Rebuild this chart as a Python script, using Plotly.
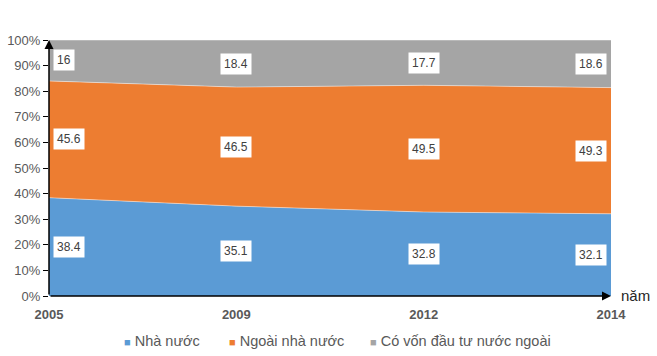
import plotly.graph_objects as go

years = ["2005", "2009", "2012", "2014"]
series_names = ["Nhà nước", "Ngoài nhà nước", "Có vốn đầu tư nước ngoài"]
nha_nuoc = [38.4, 35.1, 32.8, 32.1]
ngoai_nha_nuoc = [45.6, 46.5, 49.5, 49.3]
fdi = [16, 18.4, 17.7, 18.6]
y_ticks = [0, 10, 20, 30, 40, 50, 60, 70, 80, 90, 100]
y_tick_text = [f"{v}%" for v in y_ticks]

colors = ["#5B9BD5", "#ED7D31", "#A5A5A5"]
all_series = [nha_nuoc, ngoai_nha_nuoc, fdi]
FONT = "Liberation Sans, Arial"

xs = list(range(len(years)))
fig = go.Figure()
for name, vals, col in zip(series_names, all_series, colors):
    fig.add_trace(go.Scatter(
        x=xs, y=vals, name=name, stackgroup="one", mode="lines",
        line=dict(width=1, color="rgba(255,255,255,0.45)"),
        fillcolor=col, hoverinfo="skip", showlegend=False,
    ))

annotations = []
base = [0] * len(years)
for vals in all_series:
    for i, v in enumerate(vals):
        mid = base[i] + v / 2
        if i == 0:
            xa, xs_ = "left", 4
        elif i == len(years) - 1:
            xa, xs_ = "right", -4
        else:
            xa, xs_ = "center", 0
        annotations.append(dict(
            x=xs[i], y=mid, text=f"{v:g}", showarrow=False, xanchor=xa, xshift=xs_,
            bgcolor="white", borderpad=3,
            font=dict(family=FONT, size=12, color="#404040"),
        ))
    base = [b + v for b, v in zip(base, vals)]

# axis arrows
annotations.append(dict(x=0, y=100, ax=0, ay=0, axref="x", ayref="y", xref="x", yref="y",
                        text="", showarrow=True, arrowhead=2, arrowsize=1.2, arrowwidth=1.5,
                        arrowcolor="black"))
annotations.append(dict(x=3, y=0, ax=0, ay=0, axref="x", ayref="y", xref="x", yref="y",
                        text="", showarrow=True, arrowhead=2, arrowsize=1.2, arrowwidth=1.5,
                        arrowcolor="black"))
annotations.append(dict(x=3, y=0, xref="x", yref="y", text="năm", showarrow=False,
                        xanchor="left", xshift=8, yshift=1,
                        font=dict(family=FONT, size=15, color="#262626")))

# legend drawn as annotations (small square + label)
legend_x = [0.130, 0.3165, 0.5675]
for name, col, lx in zip(series_names, colors, legend_x):
    annotations.append(dict(
        x=lx, y=-0.176, xref="paper", yref="paper", xanchor="left", yanchor="middle",
        showarrow=False,
        text=f'<span style="color:{col};font-size:11px">■</span> {name}',
        font=dict(family=FONT, size=14.5, color="#595959"),
    ))

fig.update_layout(
    width=657, height=356,
    margin=dict(l=49, r=46, t=40, b=60, autoexpand=False),
    paper_bgcolor="white", plot_bgcolor="white",
    showlegend=False,
    xaxis=dict(range=[0, 3], tickvals=xs, ticktext=years, showgrid=False, zeroline=False,
               showline=False, ticks="outside", ticklen=6, tickcolor="rgba(0,0,0,0)",
               tickfont=dict(family=FONT, size=13, color="#595959", weight="bold")),
    yaxis=dict(range=[0, 100], tickvals=y_ticks, ticktext=y_tick_text, showgrid=False,
               zeroline=False, showline=False, ticks="outside", ticklen=5, tickcolor="black",
               tickfont=dict(family=FONT, size=13, color="#595959")),
    annotations=annotations,
)

fig.write_html(
    "out.html",
    config={"displayModeBar": False},
    post_script="document.body.style.margin='0';document.body.style.overflow='hidden';",
)
